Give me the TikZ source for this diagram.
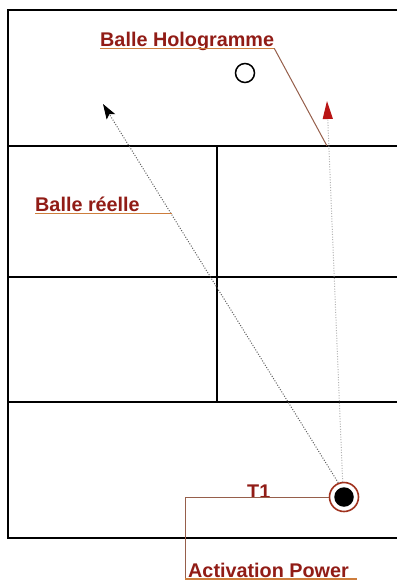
\documentclass[tikz,border=0pt]{standalone}
\usepackage{fontspec}
\setmainfont{Liberation Sans}
\usetikzlibrary{arrows.meta}
\definecolor{labelred}{RGB}{145,28,22}
\definecolor{underl}{RGB}{205,125,60}
\definecolor{leadc}{RGB}{150,95,75}
\definecolor{ringred}{RGB}{160,50,30}
\definecolor{arrred}{RGB}{185,20,20}
\begin{document}
\begin{tikzpicture}[x=1pt,y=-1pt,
  lbl/.style={font=\fontsize{19.8}{22}\selectfont\bfseries, text=labelred, inner sep=0pt, anchor=base west},
  ul/.style={draw=underl, line width=1.3pt},
  leader/.style={draw=leadc, line width=1pt},
  wall/.style={draw=black, line width=1.7pt},
  dots/.style={line width=1pt, dash pattern=on 1pt off 1.6pt},
  ballring/.style={circle, draw=ringred, line width=1.6pt, fill=white, minimum size=29pt, inner sep=0pt},
  balldisk/.style={circle, fill=black, minimum size=19.5pt, inner sep=0pt},
  holoball/.style={circle, draw=black, line width=1.5pt, minimum size=19pt, inner sep=0pt}]
\useasboundingbox (0,0) rectangle (397,581);
\fill[white] (0,0) rectangle (397,581);
% court
\draw[wall] (397,10) -- (8,10) -- (8,538) -- (397,538);
\draw[wall] (8,146) -- (397,146);
\draw[wall] (8,277) -- (397,277);
\draw[wall] (8,402) -- (397,402);
\draw[wall] (217,146) -- (217,402);
% balls
\node[holoball] (holo) at (245,73) {};
\node[ballring] (t1ball) at (344,497) {};
\node[balldisk] (t1disk) at (344,497) {};
% arrow targets
\coordinate (blacktip) at (103,104);
\coordinate (redtip) at (327,101);
\draw[dots, gray!75!black, -{Stealth[length=15pt,width=10pt,inset=3pt,black]}] (t1ball.112) -- (blacktip);
\draw[dots, gray!60, -{Triangle[length=18pt,width=10pt,arrred]}] (t1ball.95) -- (redtip);
% labels
\node[lbl] (holotxt) at (100,46.5) {Balle Hologramme};
\draw[ul] ([yshift=-1.8pt]holotxt.base west) -- ([yshift=-1.8pt]holotxt.base east) coordinate (holoend);
\coordinate (holofoot) at (327,146);
\draw[leader] (holoend) -- (holofoot);
\node[lbl] (reel) at (35,211.5) {Balle réelle};
\coordinate (reelend) at (172,213.3);
\draw[ul] ([yshift=-1.8pt]reel.base west) -- (reelend);
\node[lbl] (t1) at (247,498.5) {T1};
\coordinate (corner) at (185,497);
\node[lbl] (act) at (188,577) {Activation Power};
\coordinate (actfoot) at (185,579);
\coordinate (actend) at (357,579);
\draw[leader] (t1ball.west) -- (corner) -- (actfoot);
\draw[ul] (actfoot) -- (actend);
\end{tikzpicture}
\end{document}
